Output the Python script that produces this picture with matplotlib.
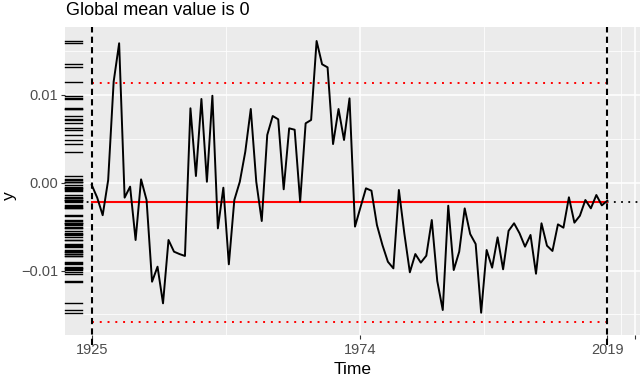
import numpy as np
import matplotlib
matplotlib.use("Agg")
import matplotlib.pyplot as plt
import matplotlib.transforms as mtransforms

plt.rcParams['font.family'] = ['Liberation Sans', 'DejaVu Sans']

# annual series 1925-2019
years = np.arange(1925, 2020)
values = [
    -0.00026, -0.0017, -0.0037, 0.0003, 0.0115, 0.01587, -0.0017, -0.00045, -0.00652, 0.00038,
    -0.00197, -0.01127, -0.00956, -0.01373, -0.00652, -0.00785, -0.00812, -0.00834, 0.00847, 0.00076,
    0.00953, 0.00011, 0.0099, -0.0052, -0.00057, -0.00929, -0.00197, 0.00011, 0.00353, 0.00839,
    0.00011, -0.00436, 0.00543, 0.00759, 0.00722, -0.00075, 0.00619, 0.00603, -0.00216, 0.00676,
    0.00714, 0.01613, 0.01348, 0.01313, 0.0044, 0.00839, 0.00486, 0.0096, -0.005, -0.0028,
    -0.00064, -0.00091, -0.00482, -0.00709, -0.009, -0.00975, -0.00083, -0.0058, -0.0102, -0.00812,
    -0.0091, -0.00831, -0.00425, -0.01119, -0.01449, -0.00262, -0.00994, -0.00785, -0.00292, -0.00584,
    -0.00698, -0.0148, -0.00766, -0.00967, -0.00622, -0.00986, -0.00548, -0.00462, -0.00576, -0.00728,
    -0.00595, -0.01036, -0.00462, -0.00717, -0.00777, -0.00474, -0.00512, -0.00166, -0.00455, -0.00376,
    -0.00197, -0.00292, -0.0014, -0.00258, -0.00205,
]

mean_value = -0.00223
upper_limit = 0.01138
lower_limit = -0.01582
start_year = 1925
end_year = 2019
limit_end = 2020

x_breaks = [1925, 1974, 2019, 2024]
x_labels = ['1925', '1974', '2019', '']
x_minor = [1949.5, 1996.5, 2021.5]
y_breaks = [-0.01, 0.0, 0.01]
y_labels = ['\u22120.01', '0.00', '0.01']
y_minor = [-0.015, -0.005, 0.005, 0.015]

fig = plt.figure(figsize=(6.4, 3.77), dpi=100)
ax = fig.add_axes([65 / 640, 1 - 335 / 377, 575 / 640, 308 / 377])
ax.set_facecolor('#EBEBEB')
for s in ax.spines.values():
    s.set_visible(False)

ax.set_xlim(1920.13, 2024.96)
ax.set_ylim(-0.017336, 0.017723)

# grid
ax.set_xticks(x_breaks)
ax.set_xticklabels(x_labels)
ax.set_xticks(x_minor, minor=True)
ax.set_yticks(y_breaks)
ax.set_yticklabels(y_labels)
ax.set_yticks(y_minor, minor=True)
ax.grid(which='major', color='white', linewidth=1.1)
ax.grid(which='minor', color='white', linewidth=0.55)
ax.set_axisbelow(True)
ax.tick_params(which='minor', length=0)
ax.tick_params(which='major', length=3.0, width=0.8, color='#333333',
               labelcolor='#4D4D4D', labelsize=10.5)
ax.tick_params(axis='x', pad=3)
ax.tick_params(axis='y', pad=2)

# rug on the left
trans = mtransforms.blended_transform_factory(ax.transAxes, ax.transData)
for v in values:
    ax.plot([0, 0.03], [v, v], color='black', linewidth=1.0, transform=trans,
            clip_on=False, zorder=3)

# mean and limits
ax.axhline(mean_value, color='black', linestyle=(0, (1, 3)), linewidth=1.3, zorder=2)
ax.plot([start_year, end_year], [mean_value, mean_value], color='red', linewidth=1.5, zorder=4)
ax.plot([start_year, limit_end], [upper_limit, upper_limit], color='red',
        linestyle=(0, (1, 3)), linewidth=1.4, zorder=2)
ax.plot([start_year, limit_end], [lower_limit, lower_limit], color='red',
        linestyle=(0, (1, 3)), linewidth=1.4, zorder=2)

# series
ax.plot(years, values, color='black', linewidth=1.4, zorder=5)

# start / end markers
for yr in [start_year, end_year]:
    ax.plot([yr, yr], [-0.0185, 0.017723], color='black', linestyle=(0, (3, 2)),
            linewidth=1.5, clip_on=False, zorder=6)

fig.text(66 / 640, 1 - 15.3 / 377, 'Global mean value is 0', fontsize=13,
         ha='left', va='baseline')
fig.text(352.5 / 640, 1 - 374.5 / 377, 'Time', fontsize=12.5, ha='center', va='baseline')
fig.text(9 / 640, 181 / 377, 'y', fontsize=12.5, rotation=90, ha='center', va='center')

fig.savefig('out.png', dpi=100)
